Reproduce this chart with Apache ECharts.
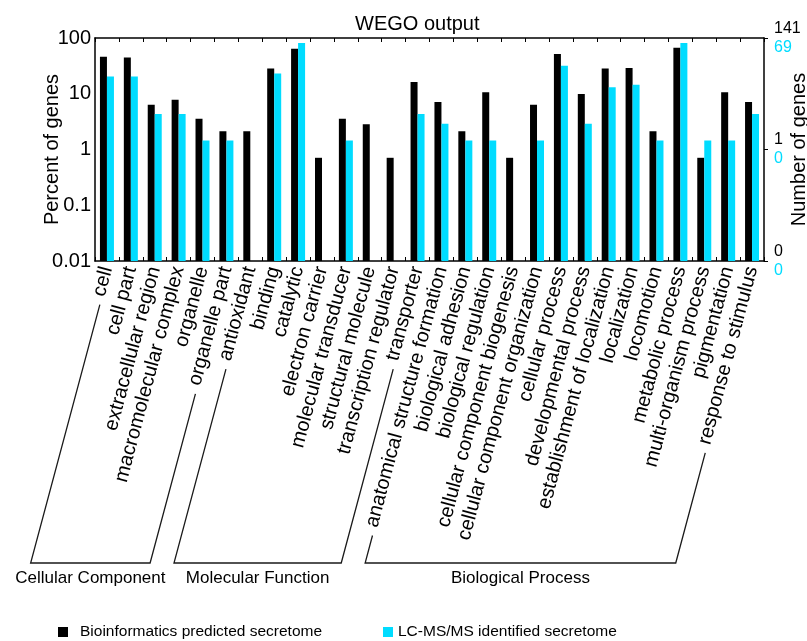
<!DOCTYPE html>
<html>
<head>
<meta charset="utf-8">
<title>WEGO output</title>
<script src="https://cdn.jsdelivr.net/npm/echarts@6/dist/echarts.min.js"></script>
<style>
  html, body { margin: 0; padding: 0; background: #fff; }
  #chart { width: 807px; height: 641px; }
</style>
</head>
<body>
<div id="chart"></div>
<script>
// GO level-2 terms
const categories = [
  'cell', 'cell part', 'extracellular region', 'macromolecular complex', 'organelle',
  'organelle part', 'antioxidant', 'binding', 'catalytic', 'electron carrier',
  'molecular transducer', 'structural molecule', 'transcription regulator', 'transporter',
  'anatomical structure formation', 'biological adhesion', 'biological regulation',
  'cellular component biogenesis', 'cellular component organization', 'cellular process',
  'developmental process', 'establishment of localization', 'localization', 'locomotion',
  'metabolic process', 'multi-organism process', 'pigmentation', 'response to stimulus'
];

// percent of genes, predicted secretome (141 genes)
const predictedPercent = [
  46.10, 44.68, 6.38, 7.80, 3.55, 2.13, 2.13, 28.37, 63.83, 0.71,
  3.55, 2.84, 0.71, 16.31, 7.09, 2.13, 10.64, 0.71, 6.38, 51.77,
  9.93, 28.37, 29.08, 2.13, 66.67, 0.71, 10.64, 7.09
];

// percent of genes, LC-MS/MS identified secretome (69 genes); null = no gene
const identifiedPercent = [
  20.29, 20.29, 4.35, 4.35, 1.45, 1.45, null, 23.19, 81.16, null,
  1.45, null, null, 4.35, 2.90, 1.45, 1.45, null, 1.45, 31.88,
  2.90, 13.04, 14.49, 1.45, 81.16, 1.45, 1.45, 4.35
];

const seriesNames = ['Bioinformatics predicted secretome', 'LC-MS/MS identified secretome'];

// right axis: gene counts shown at three percent levels
const rightTickValues = [0.01, 1, 100];
const rightLabelsPredicted = ['0', '1', '141'];
const rightLabelsIdentified = ['0', '0', '69'];

// ontology groups (first / last category index)
const groupNames = ['Cellular Component', 'Molecular Function', 'Biological Process'];
const groupFirst = [0, 6, 14];
const groupLast = [5, 13, 27];

const FONT = '"Liberation Sans", Arial, Helvetica, sans-serif';
const CYAN = '#00DCFF';
const LABEL_ROTATE = 75;
const LABEL_MARGIN = 6;
const LABEL_SIZE = 20;
const BRACKET_Y = 563;

const chart = echarts.init(document.getElementById('chart'), null, { renderer: 'canvas' });

function decade(v) { return Math.round(Math.log10(v)); }

const option = {
  animation: false,
  backgroundColor: '#fff',
  title: {
    text: 'WEGO output',
    left: 350,
    top: 9,
    textStyle: { fontFamily: FONT, fontSize: 20, fontWeight: 'normal', color: '#000' }
  },
  legend: [
    {
      data: [seriesNames[0]],
      left: 58, top: 624, padding: 0,
      icon: 'rect', itemWidth: 10, itemHeight: 10,
      textStyle: { fontFamily: FONT, fontSize: 15.5, color: '#000', padding: [0, 0, 0, 7] }
    },
    {
      data: [seriesNames[1]],
      left: 383, top: 624, padding: 0,
      icon: 'rect', itemWidth: 10, itemHeight: 10,
      textStyle: { fontFamily: FONT, fontSize: 15.5, color: '#000' }
    }
  ],
  grid: { left: 95, right: 43, top: 38, bottom: 380, containLabel: false, outerBoundsMode: 'none' },
  xAxis: [
    {
      type: 'category',
      position: 'bottom',
      data: categories,
      axisLine: { show: true, lineStyle: { color: '#000', width: 1.5 } },
      axisTick: { show: true, inside: true, length: 4, interval: 0, lineStyle: { color: '#000' } },
      axisLabel: {
        interval: 0, rotate: LABEL_ROTATE, margin: LABEL_MARGIN,
        fontFamily: FONT, fontSize: LABEL_SIZE, color: '#000'
      },
      splitLine: { show: false }
    },
    {
      type: 'category',
      position: 'top',
      data: categories,
      axisLine: { show: true, lineStyle: { color: '#000', width: 1.5 } },
      axisTick: { show: true, inside: true, length: 4, interval: 0, lineStyle: { color: '#000' } },
      axisLabel: { show: false },
      splitLine: { show: false }
    }
  ],
  yAxis: [
    {
      type: 'log',
      logBase: 10,
      min: 0.01,
      max: 100,
      startValue: 0.01,
      position: 'left',
      name: 'Percent of genes',
      nameLocation: 'middle',
      nameGap: 33,
      nameMoveOverlap: false,
      nameTextStyle: { fontFamily: FONT, fontSize: 20, color: '#000' },
      axisLine: { show: true, lineStyle: { color: '#000', width: 1.5 } },
      axisTick: { show: false },
      axisLabel: {
        margin: 4, fontFamily: FONT, fontSize: 20, color: '#000',
        formatter: function (v) { return String(Math.pow(10, decade(v))); }
      },
      splitLine: { show: false }
    },
    {
      type: 'log',
      logBase: 10,
      min: 0.01,
      max: 100,
      position: 'right',
      name: 'Number of genes',
      nameLocation: 'middle',
      nameGap: 25,
      nameMoveOverlap: false,
      nameTextStyle: { fontFamily: FONT, fontSize: 20, color: '#000' },
      axisLine: { show: true, lineStyle: { color: '#000', width: 1.5 } },
      axisTick: { show: true, length: 4, customValues: rightTickValues, lineStyle: { color: '#000' } },
      axisLabel: {
        margin: 10,
        fontFamily: FONT,
        formatter: function (v) {
          const i = rightTickValues.findIndex(function (t) { return decade(t) === decade(v); });
          if (i < 0) return '';
          return '{p|' + rightLabelsPredicted[i] + '}\n{q|' + rightLabelsIdentified[i] + '}';
        },
        rich: {
          p: { fontFamily: FONT, fontSize: 16, lineHeight: 19, color: '#000' },
          q: { fontFamily: FONT, fontSize: 16, lineHeight: 19, color: CYAN }
        }
      },
      splitLine: { show: false }
    }
  ],
  series: [
    {
      name: seriesNames[0],
      type: 'bar',
      xAxisIndex: 0,
      yAxisIndex: 0,
      data: predictedPercent,
      barWidth: 7,
      barGap: '0%',
      itemStyle: { color: '#000' }
    },
    {
      name: seriesNames[1],
      type: 'bar',
      xAxisIndex: 0,
      yAxisIndex: 0,
      data: identifiedPercent,
      barWidth: 7,
      barGap: '0%',
      itemStyle: { color: CYAN }
    }
  ]
};

chart.setOption(option);

// Group brackets: each side continues the slant of its term label down to a common baseline.
(function drawBrackets() {
  const ctx = document.createElement('canvas').getContext('2d');
  ctx.font = LABEL_SIZE + 'px ' + FONT;
  const rad = LABEL_ROTATE * Math.PI / 180;
  const dirX = -Math.cos(rad), dirY = Math.sin(rad);
  const axisY = chart.convertToPixel({ yAxisIndex: 0 }, 0.01);

  function side(i) {
    const cx = chart.convertToPixel({ xAxisIndex: 0 }, categories[i]);
    const ax = cx + 3, ay = axisY + LABEL_MARGIN;
    const d = ctx.measureText(categories[i]).width + 9;
    const top = [ax + dirX * d, ay + dirY * d];
    const t = (BRACKET_Y - ay) / dirY;
    const bottom = [ax + dirX * t, BRACKET_Y];
    return { top: top, bottom: bottom };
  }

  const elements = [];
  groupNames.forEach(function (name, g) {
    const l = side(groupFirst[g]);
    const r = side(groupLast[g]);
    elements.push({
      type: 'polyline',
      silent: true,
      shape: { points: [l.top, l.bottom, r.bottom, r.top] },
      style: { stroke: '#1a1a1a', lineWidth: 1.3, fill: null }
    });
    elements.push({
      type: 'text',
      silent: true,
      x: (l.bottom[0] + r.bottom[0]) / 2,
      y: 578,
      style: {
        text: name, fontFamily: FONT, fontSize: 17, fill: '#000',
        align: 'center', verticalAlign: 'middle'
      }
    });
  });
  chart.setOption({ graphic: { elements: elements } });
})();
</script>
</body>
</html>
